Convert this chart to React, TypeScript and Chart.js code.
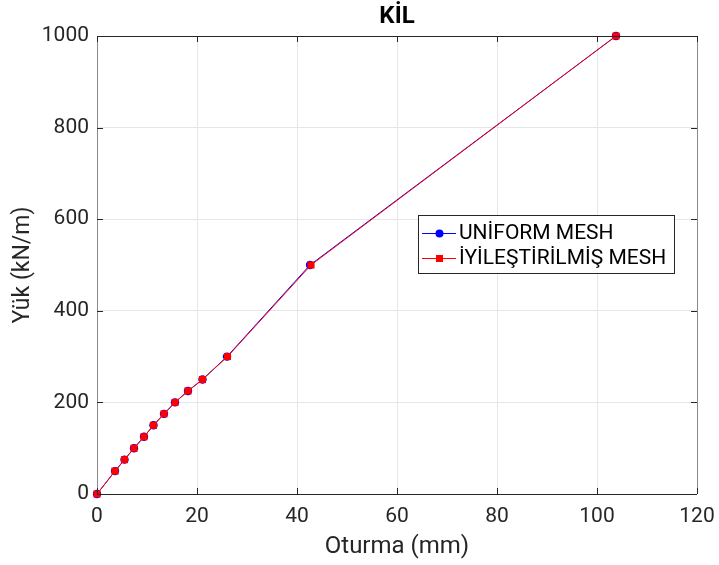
import React, { useEffect, useRef } from "react";
import { Chart, registerables } from "chart.js";

Chart.register(...registerables);

const TITLE = "KİL";
const X_TITLE = "Oturma (mm)";
const Y_TITLE = "Yük (kN/m)";
const SERIES_NAMES = ["UNİFORM MESH", "İYİLEŞTİRİLMİŞ MESH"];

const uniformX = [0, 3.6, 5.5, 7.4, 9.4, 11.3, 13.4, 15.6, 18.2, 21.1, 26.0, 42.6, 103.8];
const uniformY = [0, 50, 75, 100, 125, 150, 175, 200, 225, 250, 300, 500, 1000];
const refinedX = [0, 3.6, 5.5, 7.4, 9.4, 11.3, 13.4, 15.6, 18.2, 21.1, 26.1, 42.8, 103.8];
const refinedY = [0, 50, 75, 100, 125, 150, 175, 200, 225, 250, 300, 500, 1000];

const X_MIN = 0, X_MAX = 120, X_STEP = 20;
const Y_MIN = 0, Y_MAX = 1000, Y_STEP = 200;

const FONT = "Roboto, 'Liberation Sans', Arial, sans-serif";
const TEXT = "#262626";

const decorPlugin = {
  id: "decor",
  afterDraw(chart: any) {
    const { ctx, chartArea: a, scales } = chart;
    const xs = scales.x, ys = scales.y;
    ctx.save();
    ctx.lineWidth = 1;
    ctx.strokeStyle = "#262626";
    ctx.beginPath();
    ctx.moveTo(a.left, a.top + 0.5); ctx.lineTo(a.right, a.top + 0.5);
    ctx.moveTo(a.left, a.bottom + 0.5); ctx.lineTo(a.right, a.bottom + 0.5);
    ctx.stroke();
    ctx.strokeStyle = "#8a8a8a";
    ctx.beginPath();
    ctx.moveTo(a.left + 0.5, a.top); ctx.lineTo(a.left + 0.5, a.bottom);
    ctx.moveTo(a.right + 0.5, a.top); ctx.lineTo(a.right + 0.5, a.bottom);
    ctx.stroke();
    ctx.strokeStyle = "#262626";
    ctx.beginPath();
    const T = 6;
    for (let v = X_MIN; v <= X_MAX; v += X_STEP) {
      const px = Math.round(xs.getPixelForValue(v)) + 0.5;
      ctx.moveTo(px, a.bottom); ctx.lineTo(px, a.bottom - T);
      ctx.moveTo(px, a.top); ctx.lineTo(px, a.top + T);
    }
    for (let v = Y_MIN; v <= Y_MAX; v += Y_STEP) {
      const py = Math.round(ys.getPixelForValue(v)) + 0.5;
      ctx.moveTo(a.left, py); ctx.lineTo(a.left + T, py);
      ctx.moveTo(a.right, py); ctx.lineTo(a.right - T, py);
    }
    ctx.stroke();
    ctx.fillStyle = "#000";
    ctx.textAlign = "center";
    ctx.textBaseline = "middle";
    ctx.font = `bold 24px ${FONT}`;
    ctx.fillText(TITLE, (a.left + a.right) / 2, 17);
    ctx.fillStyle = TEXT;
    ctx.font = `24px ${FONT}`;
    ctx.fillText(X_TITLE, (a.left + a.right) / 2, 547);
    ctx.save();
    ctx.translate(23, (a.top + a.bottom) / 2);
    ctx.rotate(-Math.PI / 2);
    ctx.font = `23px ${FONT}`;
    ctx.fillText(Y_TITLE, 0, 0);
    ctx.restore();
    const bx = 418, by = 215, bw = 256, bh = 58;
    ctx.fillStyle = "#fff";
    ctx.fillRect(bx, by, bw, bh);
    ctx.strokeStyle = "#262626";
    ctx.lineWidth = 1;
    ctx.strokeRect(bx + 0.5, by + 0.5, bw, bh);
    const rows = [233, 258];
    ctx.textAlign = "left";
    ctx.font = `21px ${FONT}`;
    chart.data.datasets.forEach((ds: any, i: number) => {
      const y = rows[i];
      ctx.strokeStyle = ds.borderColor;
      ctx.lineWidth = 1;
      ctx.beginPath();
      ctx.moveTo(422, y + 0.5); ctx.lineTo(456, y + 0.5);
      ctx.stroke();
      ctx.fillStyle = ds.backgroundColor;
      if (ds.pointStyle === "rect") {
        ctx.fillRect(436, y - 3, 7, 7);
      } else {
        ctx.beginPath();
        ctx.arc(439.5, y + 0.5, 4, 0, Math.PI * 2);
        ctx.fill();
      }
      ctx.fillStyle = "#000";
      ctx.fillText(ds.label, 459, y + 1);
    });
    ctx.restore();
  },
};

export default function App() {
  const ref = useRef<HTMLCanvasElement>(null);
  useEffect(() => {
    document.body.style.margin = "0";
    const chart = new Chart(ref.current!, {
      type: "line",
      data: {
        datasets: [
          {
            label: SERIES_NAMES[0],
            data: uniformX.map((x, i) => ({ x, y: uniformY[i] })),
            borderColor: "#0000ff",
            backgroundColor: "#0000ff",
            borderWidth: 1,
            pointStyle: "circle",
            pointRadius: 4.2,
            pointBorderWidth: 0,
            order: 1,
            clip: false,
          },
          {
            label: SERIES_NAMES[1],
            data: refinedX.map((x, i) => ({ x, y: refinedY[i] })),
            borderColor: "#ff0000",
            backgroundColor: "#ff0000",
            borderWidth: 1,
            pointStyle: "rect",
            pointRadius: 5,
            pointBorderWidth: 0,
            order: 0,
            clip: false,
          },
        ],
      },
      options: {
        animation: false,
        responsive: true,
        maintainAspectRatio: false,
        layout: { padding: { top: 36, right: 22, left: 0, bottom: 0 } },
        plugins: { legend: { display: false }, title: { display: false }, tooltip: { enabled: false } },
        scales: {
          x: {
            type: "linear",
            min: X_MIN,
            max: X_MAX,
            ticks: { stepSize: X_STEP, color: TEXT, font: { family: FONT, size: 21 }, padding: 10, maxRotation: 0, callback: (v: any) => String(v) },
            grid: { color: "#e6e6e6", drawTicks: false },
            border: { display: false },
            afterFit: (s: any) => { s.height = 71; s.paddingLeft = 0; s.paddingRight = 0; },
          },
          y: {
            type: "linear",
            min: Y_MIN,
            max: Y_MAX,
            ticks: { stepSize: Y_STEP, color: TEXT, font: { family: FONT, size: 21 }, padding: 8, callback: (v: any) => String(v) },
            grid: { color: "#e6e6e6", drawTicks: false },
            border: { display: false },
            afterFit: (s: any) => { s.width = 97; s.paddingTop = 0; s.paddingBottom = 0; },
          },
        },
      },
      plugins: [decorPlugin],
    });
    return () => chart.destroy();
  }, []);
  return (
    <div style={{ position: "absolute", left: 0, top: 0, width: 719, height: 565, background: "#fff" }}>
      <canvas ref={ref} />
    </div>
  );
}
